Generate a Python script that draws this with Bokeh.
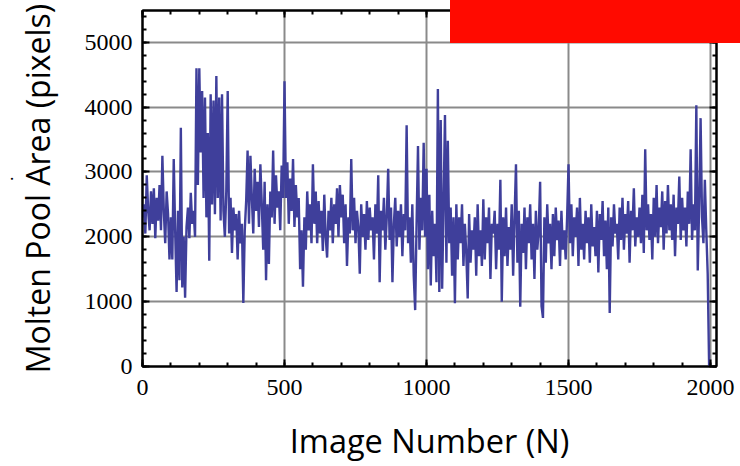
from bokeh.plotting import figure
from bokeh.models import (Range1d, LinearAxis, Title, SingleIntervalTicker, Grid,
                          CustomJSTickFormatter, InlineStyleSheet)
from bokeh.embed import file_html
from bokeh.resources import INLINE

# ---- data ----
image_number = list(range(0, 2000, 5))
pool_area = [
    2300, 2500, 2050, 2950, 2400, 2100, 2700, 2200, 2750, 1980,
    2600, 2250, 2800, 2100, 3250, 2400, 1900, 2700, 2350, 1650,
    2300, 1650, 3200, 2100, 1150, 2400, 1330, 3680, 1220, 2000,
    1060, 2150, 2450, 1980, 2680, 2200, 2400, 2000, 4600, 2800,
    4600, 3300, 4250, 2600, 4150, 2300, 3600, 1630, 4200, 2500,
    4100, 2350, 4480, 2600, 4150, 2250, 4200, 2400, 2000, 2700,
    4250, 2050, 2600, 1750, 2450, 2100, 2350, 1650, 2400, 1900,
    2200, 980, 2100, 2550, 3330, 2200, 3250, 2600, 2050, 3050,
    2400, 2850, 2150, 3120, 2500, 1800, 2850, 1330, 2500, 1580,
    2700, 2300, 3330, 2200, 2950, 2450, 2700, 2100, 3100, 2600,
    4400, 2600, 3150, 2200, 2900, 2400, 3200, 2150, 2800, 2300,
    2600, 1500, 2100, 1230, 2300, 1800, 2700, 2100, 2500, 1900,
    3120, 2200, 2700, 1900, 2550, 2050, 2400, 1780, 2650, 2000,
    1680, 2400, 2100, 2600, 1900, 2500, 2200, 2750, 2000, 2800,
    2300, 2650, 1900, 2500, 1550, 2300, 2050, 3200, 2100, 2600,
    1900, 2400, 2150, 1430, 2500, 2000, 2350, 1800, 2550, 1950,
    2450, 2100, 2300, 1650, 2500, 2050, 2950, 1300, 2400, 2100,
    2600, 1800, 2300, 3050, 1950, 2450, 1300, 2200, 2600, 1850,
    2400, 2000, 2500, 1700, 2350, 2100, 3720, 1900, 2300, 1600,
    2500, 1400, 870, 2200, 3400, 1800, 2600, 2100, 3450, 2000,
    3050, 1500, 2650, 1250, 2400, 1700, 2200, 1300, 4280, 1150,
    3800, 1200, 2500, 3880, 1600, 3480, 1900, 2450, 1400, 2300,
    975, 2500, 1650, 2300, 1900, 2500, 1550, 2200, 1750, 1050,
    2350, 1600, 2100, 1800, 2300, 1400, 2500, 1700, 2100, 1550,
    2580, 1650, 2300, 1900, 2450, 1350, 2200, 2050, 2400, 1500,
    2200, 1800, 2880, 1000, 2300, 1700, 2450, 1550, 2150, 1800,
    2500, 1400, 2300, 3120, 1600, 2400, 920, 2200, 1750, 2450,
    1500, 2300, 1900, 2500, 1650, 2200, 1350, 2400, 1800, 2100,
    2850, 930, 750, 2300, 1600, 2500, 1900, 2200, 1500, 2350,
    1700, 2450, 1950, 2250, 1550, 2400, 1800, 2100, 1650, 2300,
    3120, 1900, 2500, 1700, 2300, 2000, 2450, 1550, 2600, 1800,
    2200, 1650, 2400, 1900, 2300, 1600, 2500, 1850, 2150, 1700,
    2400, 1450, 2350, 1950, 2550, 1700, 2250, 1500, 2450, 825,
    2300, 1850, 2500, 2050, 2200, 1650, 2450, 1950, 2600, 1800,
    2350, 2050, 2550, 1600, 2400, 2100, 2750, 1850, 2300, 2000,
    2450, 1900, 2650, 1750, 3350, 2100, 2500, 1950, 2350, 1650,
    2600, 2000, 2800, 1900, 2450, 2150, 2700, 1800, 2550, 2050,
    2800, 2100, 2500, 1950, 2650, 1700, 2450, 2200, 2930, 1950,
    2600, 2100, 2450, 1850, 2700, 2200, 3350, 1950, 2500, 2100,
    4030, 1480, 2500, 3830, 2300, 1900, 2880, 2100, 1430, 0,
]
x_tick_step = 500
y_tick_step = 1000
x_label = "Image Number (N)"
y_label = "Molten Pool Area (pixels)"

LINE = "#3F3F9B"
SERIF = "Liberation Serif"
SANS = "Open Sans"

p = figure(width=740, height=466, output_backend="svg", toolbar_location=None,
           x_range=Range1d(0, 2021), y_range=Range1d(0, 5490),
           x_axis_location=None, y_axis_location=None,
           min_border_left=142, min_border_right=24,
           min_border_top=10, min_border_bottom=100)
p.background_fill_color = "white"
p.border_fill_color = "white"
p.outline_line_color = "black"
p.outline_line_width = 2

xt = SingleIntervalTicker(interval=x_tick_step, num_minor_ticks=5)
yt = SingleIntervalTicker(interval=y_tick_step, num_minor_ticks=5)

p.add_layout(Grid(dimension=0, ticker=xt, grid_line_color="#8a8a8a", grid_line_width=2))
p.add_layout(Grid(dimension=1, ticker=yt, grid_line_color="#8a8a8a", grid_line_width=2))

def make_axis(ticker, show_labels, standoff=10, label_size="32.5px"):
    ax = LinearAxis(ticker=ticker)
    ax.axis_line_color = "black"
    ax.axis_line_width = 2
    ax.major_tick_line_color = "black"
    ax.major_tick_line_width = 2
    ax.minor_tick_line_color = "black"
    ax.minor_tick_line_width = 2
    ax.major_tick_in = 7
    ax.major_tick_out = 0
    ax.minor_tick_in = 4
    ax.minor_tick_out = 0
    if show_labels:
        ax.major_label_text_font = SERIF
        ax.major_label_text_font_size = "24px"
        ax.major_label_text_color = "black"
        ax.major_label_standoff = standoff
        ax.axis_label_text_font = SANS
        ax.axis_label_text_font_size = label_size
        ax.axis_label_text_font_style = "normal"
        ax.axis_label_text_color = "black"
    else:
        ax.formatter = CustomJSTickFormatter(code="return ''")
        ax.major_label_text_font_size = "1px"
        ax.major_label_standoff = 0
    return ax

xaxis = make_axis(xt, True, standoff=13, label_size="32.5px")
xaxis.axis_label = x_label
xaxis.axis_label_standoff = 20
yaxis = make_axis(yt, True, standoff=10, label_size="32px")
yaxis.axis_label = y_label
yaxis.axis_label_standoff = 23

p.add_layout(xaxis, "below")
p.add_layout(yaxis, "left")
p.add_layout(make_axis(xt, False), "above")
p.add_layout(make_axis(yt, False), "right")

p.line(image_number, pool_area, line_color=LINE, line_width=2.4)

# stray dot left of the y-axis title
p.add_layout(Title(text=".", text_font=SANS, text_font_size="12px",
                   text_font_style="bold", text_color="black",
                   align="left", offset=186, standoff=0), "left")

# red block that covers the top-right corner of the picture
p.stylesheets = [InlineStyleSheet(css="""
:host { position: relative; }
:host::after {
  content: "";
  position: absolute;
  left: 450px; top: 0px; width: 290px; height: 43px;
  background-color: #FF0A00;
  pointer-events: none;
}
""")]

open("out.html", "w").write(file_html(p, INLINE))
